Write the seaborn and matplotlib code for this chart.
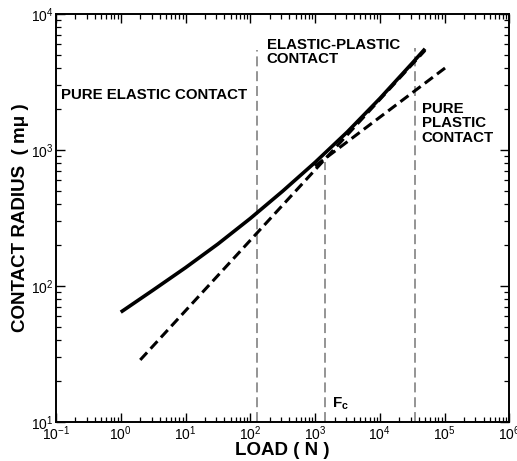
import numpy as np
import pandas as pd
import matplotlib
matplotlib.use("Agg")
import matplotlib.pyplot as plt
import seaborn as sns
from matplotlib.ticker import LogLocator, NullFormatter

# ---- data ----
load_ep = [1, 3.16, 10, 31.6, 100, 316, 1000, 3160, 10000, 31600, 50000]
radius_ep = [64, 93, 136, 203, 313, 497, 809, 1358, 2388, 4345, 5546]

load_plastic = [2, 50000]
radius_plastic = [28.5, 5400]

load_upper = [1000, 108000]
radius_upper = [760, 4090]

vline_load = [128, 1426, 35000]
vline_top = [5430, 818, 5600]
vline_bottom = 10

sns.set_style("ticks")
plt.rcParams["font.family"] = ["Liberation Sans", "DejaVu Sans"]
plt.rcParams["mathtext.fontset"] = "custom"
plt.rcParams["mathtext.rm"] = "Liberation Sans"
plt.rcParams["mathtext.it"] = "Liberation Sans:italic"
plt.rcParams["mathtext.bf"] = "Liberation Sans:bold"
plt.rcParams["text.color"] = "black"
plt.rcParams["axes.labelcolor"] = "black"
plt.rcParams["xtick.color"] = "black"
plt.rcParams["ytick.color"] = "black"
plt.rcParams["xtick.labelcolor"] = "black"
plt.rcParams["ytick.labelcolor"] = "black"

fig = plt.figure(figsize=(5.17, 4.61), dpi=100)
ax = fig.add_axes([0.1083, 0.0852, 0.8768, 0.8844])

# vertical gray region separators
for xv, yt in zip(vline_load, vline_top):
    d = pd.DataFrame({"x": [xv, xv], "y": [vline_bottom, yt]})
    sns.lineplot(data=d, x="x", y="y", ax=ax, color="#767676", linewidth=1.1,
                 linestyle=(0, (6.5, 3.2)), sort=False, estimator=None)

d_ep = pd.DataFrame({"x": load_ep, "y": radius_ep})
sns.lineplot(data=d_ep, x="x", y="y", ax=ax, color="black", linewidth=2.6,
             sort=False, estimator=None, solid_capstyle="butt", solid_joinstyle="round")

d_pl = pd.DataFrame({"x": load_plastic, "y": radius_plastic})
sns.lineplot(data=d_pl, x="x", y="y", ax=ax, color="black", linewidth=2.2,
             linestyle=(0, (3.3, 1.7)), sort=False, estimator=None)

d_up = pd.DataFrame({"x": load_upper, "y": radius_upper})
sns.lineplot(data=d_up, x="x", y="y", ax=ax, color="black", linewidth=2.2,
             linestyle=(0, (3.3, 1.7)), sort=False, estimator=None)

ax.set_xscale("log")
ax.set_yscale("log")
ax.set_xlim(1e-1, 1e6)
ax.set_ylim(1e1, 1e4)

ax.xaxis.set_major_locator(LogLocator(base=10, numticks=20))
ax.yaxis.set_major_locator(LogLocator(base=10, numticks=20))
ax.xaxis.set_minor_locator(LogLocator(base=10, subs=np.arange(2, 10), numticks=20))
ax.yaxis.set_minor_locator(LogLocator(base=10, subs=np.arange(2, 10), numticks=20))
ax.xaxis.set_minor_formatter(NullFormatter())
ax.yaxis.set_minor_formatter(NullFormatter())

ax.tick_params(which="both", direction="in", top=True, right=True, color="black")
ax.tick_params(which="major", length=6.5, width=1.0, labelsize=10, pad=2)
ax.tick_params(which="minor", length=3.6, width=0.9)
for s in ax.spines.values():
    s.set_linewidth(1.4)
    s.set_color("black")

ax.set_xlabel("LOAD ( N )", fontsize=13.5, fontweight="bold", labelpad=-1)
ax.set_ylabel("CONTACT RADIUS  ( mμ )", fontsize=13.5, fontweight="bold", labelpad=1)

ax.text(1.2e-1, 2.55e3, "PURE ELASTIC CONTACT", fontsize=10.8, fontweight="bold",
        ha="left", va="center")
ax.text(1.8e2, 6.65e3, "ELASTIC-PLASTIC\nCONTACT", fontsize=10.8, fontweight="bold",
        ha="left", va="top", linespacing=0.95)
ax.text(4.44e4, 2.27e3, "PURE\nPLASTIC\nCONTACT", fontsize=10.8, fontweight="bold",
        ha="left", va="top", linespacing=1.05)
ax.text(1.85e3, 1.35e1, r"$\mathbf{F_c}$", fontsize=11, ha="left", va="center")

fig.savefig("out.png", dpi=100)
